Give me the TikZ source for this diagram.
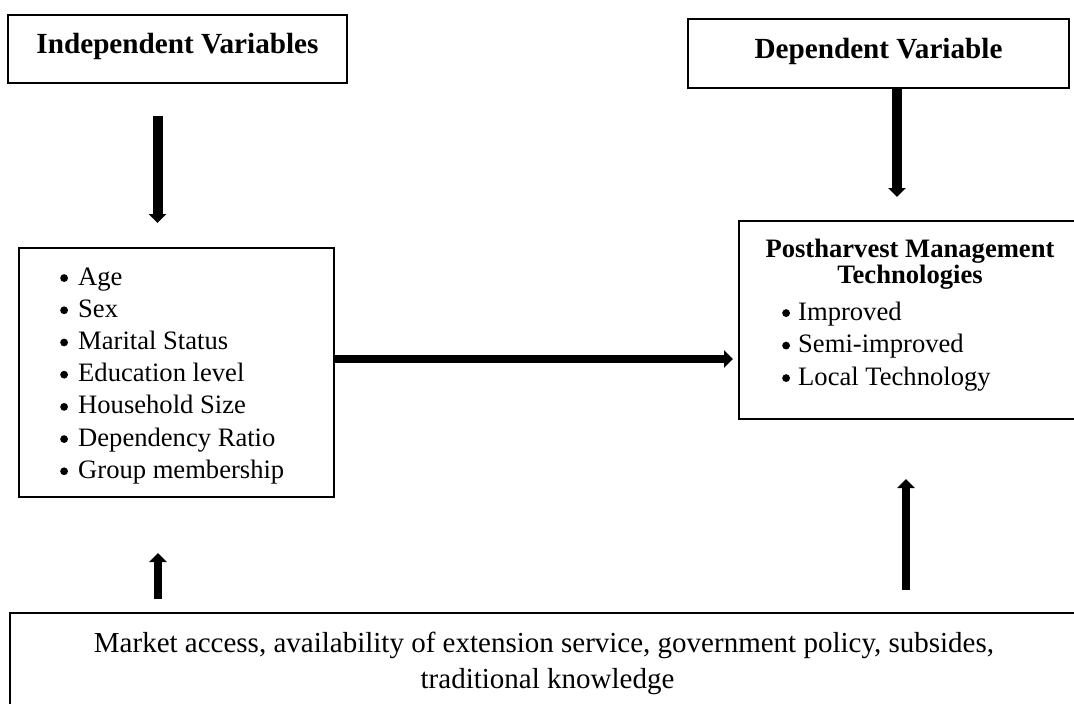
\documentclass[tikz,border=0pt]{standalone}
\usepackage{fontspec}
\setmainfont{Liberation Serif}
\usetikzlibrary{arrows.meta}
\newcommand{\bigbul}{\raisebox{0.26em}{\tikz[baseline]\fill (0,0) circle (3.9pt);}}
\begin{document}
\begin{tikzpicture}[x=1pt,y=-1pt,
  box/.style={draw, line width=1.6pt, inner sep=0pt},
  body/.style={font=\fontsize{26.6}{32}\selectfont, inner sep=0pt, anchor=base west},
  headtxt/.style={font=\fontsize{29.2}{34}\selectfont\bfseries, inner sep=0pt, anchor=base},
  posthead/.style={font=\fontsize{26.6}{32}\selectfont\bfseries, inner sep=0pt, anchor=base},
  mkt/.style={font=\fontsize{29}{34}\selectfont, inner sep=0pt, anchor=base},
  bigarrow/.style={line width=#1, -{Triangle[width=17pt,length=9pt]}},
  bigarrow/.default=9pt]
\useasboundingbox (0,0) rectangle (1074,704);
\clip (0,0) rectangle (1074,704);

% boxes
\node[box, minimum width=339pt, minimum height=68pt] (ind) at (177.5,49) {};
\node[box, minimum width=381pt, minimum height=69pt] (dep) at (878.5,53.5) {};
\node[box, minimum width=315pt, minimum height=249pt] (vars) at (176.5,372.5) {};
\node[box, minimum width=342pt, minimum height=198pt] (post) at (910,320) {};
\node[box, minimum width=1070pt, minimum height=117pt] (ext) at (545,671.5) {};

% titles
\node[headtxt] (indt) at (177.5,53) {Independent Variables};
\node[headtxt] (dept) at (878.5,58) {Dependent Variable};
\node[posthead] (pt1) at (910,257) {Postharvest Management};
\node[posthead] (pt2) at (910,283) {Technologies};

% independent variable list
\foreach \t [count=\i from 0] in {Age,Sex,Marital Status,Education level,Household Size,Dependency Ratio,Group membership}
  \node[body] (v\i) at (60,{285+32.2*\i}) {\makebox[18pt][l]{\bigbul}\t};

% technologies list
\foreach \t/\yy [count=\i] in {Improved/320,Semi-improved/352.5,Local Technology/385}
  \node[body] (p\i) at (782,\yy) {\makebox[16pt][l]{\bigbul}\t};

% external factors
\node[mkt] (m1) at (544,652) {Market access, availability of extension service, government policy, subsides,};
\node[mkt] (m2) at (547.5,688) {traditional knowledge};

% arrows
\coordinate (a1s) at (157.5,116);
\coordinate (a1e) at (157.5,223);
\coordinate (a2s) at (897,88);
\coordinate (a2e) at (897,197);
\coordinate (a3s) at (335,359);
\coordinate (a3e) at (733,359);
\coordinate (a4s) at (158,599);
\coordinate (a4e) at (158,553);
\coordinate (a5s) at (906,590);
\coordinate (a5e) at (906,479);
\draw[bigarrow=10pt] (a1s) -- (a1e);
\draw[bigarrow=10pt] (a2s) -- (a2e);
\draw[bigarrow=8pt] (a3s) -- (a3e);
\draw[bigarrow=8.5pt] (a4s) -- (a4e);
\draw[bigarrow=8pt] (a5s) -- (a5e);
\end{tikzpicture}
\end{document}
